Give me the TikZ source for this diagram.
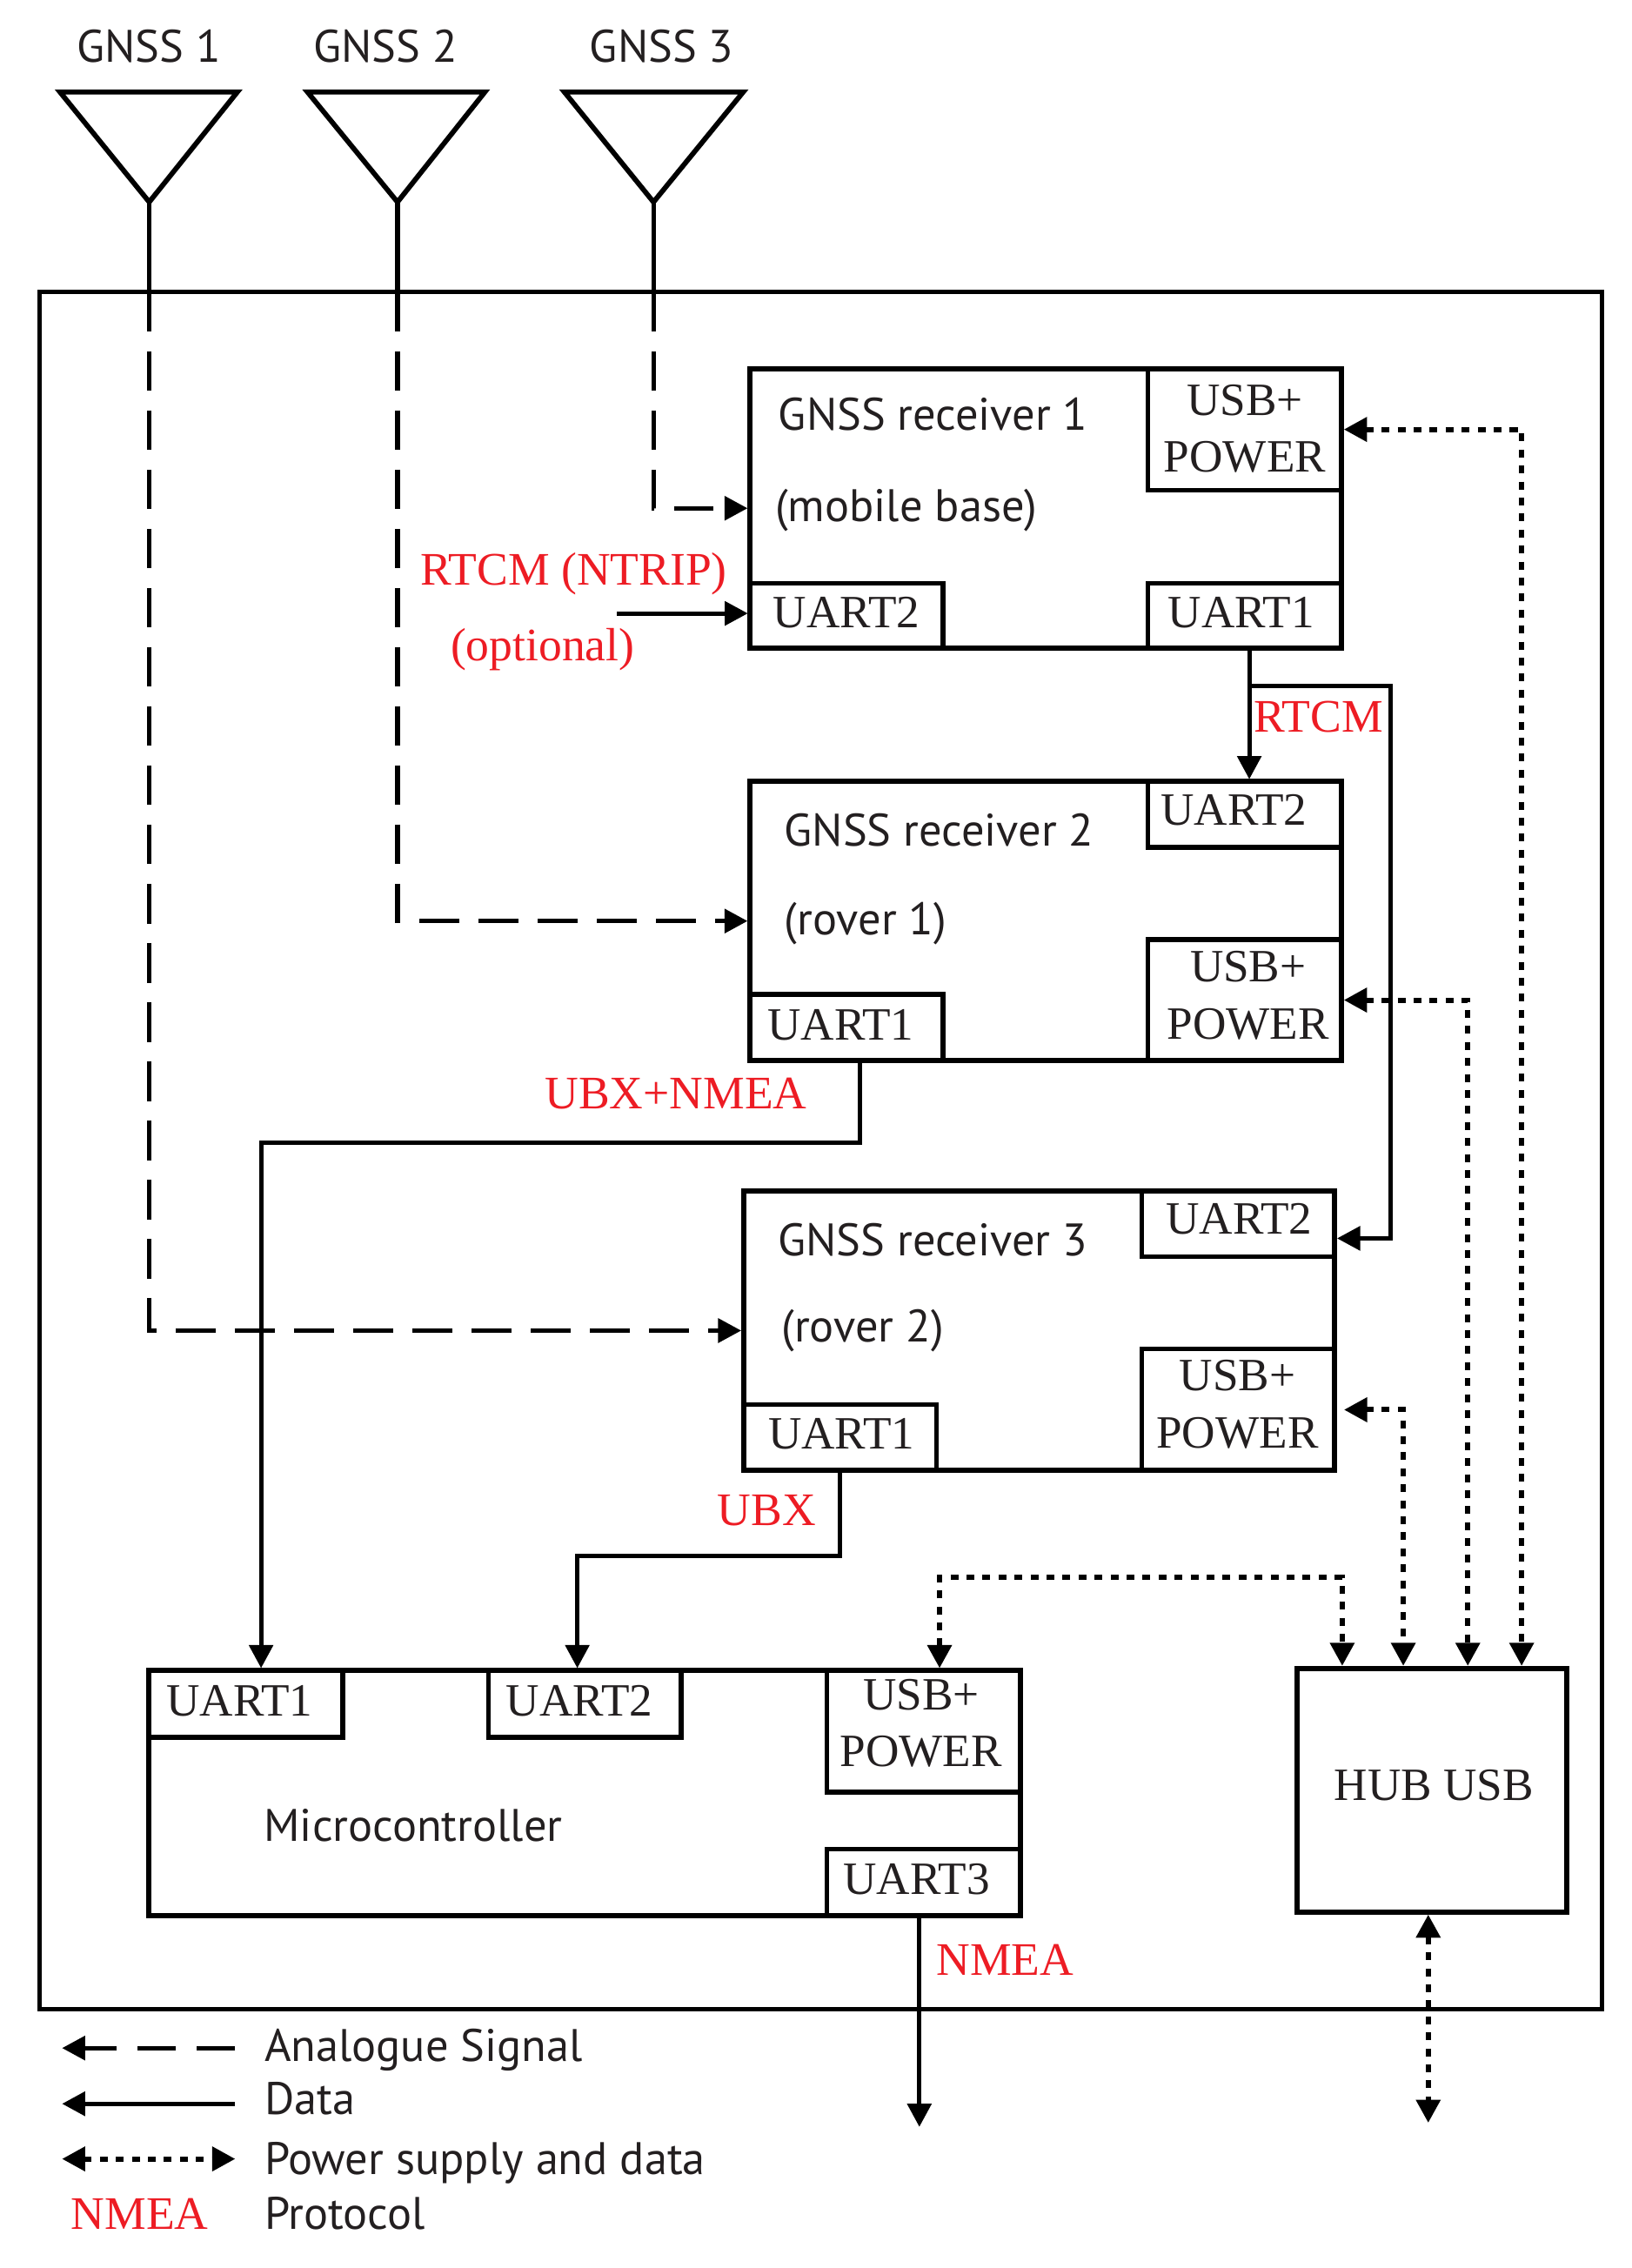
\documentclass[tikz,border=0pt]{standalone}
\usepackage{fontspec}
\setmainfont{Liberation Serif}
\newfontfamily\sansf{PT Sans}
\usetikzlibrary{arrows.meta,fit,calc}
\definecolor{rd}{RGB}{237,28,36}
\definecolor{tx}{RGB}{35,31,32}
\begin{document}
\begin{tikzpicture}[x=0.8295pt,y=-0.8295pt,
  box/.style={draw,line width=3pt,inner sep=0pt},
  sub/.style={draw,line width=2.7pt,inner sep=0pt},
  ttxt/.style={anchor=base,inner sep=0pt,text=tx,
    font=\fontsize{26.6pt}{32pt}\selectfont},
  stxt/.style={anchor=base west,inner sep=0pt,text=tx,
    font=\sansf\fontsize{26.2pt}{32pt}\selectfont},
  rtxt/.style={anchor=base west,inner sep=0pt,text=rd,
    font=\fontsize{26.8pt}{32pt}\selectfont},
  tip/.style={-{Triangle[length=13.3pt,width=13.6pt]}},
  wire/.style={line width=2.5pt},
  data/.style={wire,tip},
  analog/.style={line width=2.6pt,dash pattern=on 22.8pt off 11.2pt,dash phase=4.6pt,tip},
  pwr/.style={line width=3pt,dash pattern=on 4.5pt off 4.7pt,
    {Triangle[length=13.3pt,width=13.6pt]}-{Triangle[length=13.3pt,width=13.6pt]}},
  ant/.style={draw,line width=2.9pt,line join=miter}
]
\useasboundingbox (0,0) rectangle (1130.2,1571.4);

% antennas
\coordinate (a1) at (103.4,140);
\coordinate (a2) at (275.4,140);
\coordinate (a3) at (452.8,140);
\draw[ant] (41.5,63.7) -- (164.5,63.7) -- (a1) -- cycle;
\draw[ant] (213,63.7) -- (336,63.7) -- (a2) -- cycle;
\draw[ant] (391,63.7) -- (515,63.7) -- (a3) -- cycle;
\node[stxt] (g1) at (53,43) {GNSS 1};
\node[stxt] (g2) at (216.8,43) {GNSS 2};
\node[stxt] (g3) at (408.4,43) {GNSS 3};

% outer box
\node[box,line width=2.6pt,fit={(27.5,202.4) (1110,1392)}] (outer) {};

% receiver 1
\node[box,fit={(519.8,255.3) (929.5,449)}] (r1) {};
\node[sub,fit={(795.4,255.3) (929.5,339.8)}] (r1usb) {};
\node[sub,fit={(519.8,404) (653.3,449)}] (r1u2) {};
\node[sub,fit={(795.4,404) (929.5,449)}] (r1u1) {};
\node[ttxt] (r1usbA) at (862.6,287.9) {USB+};
\node[ttxt] (r1usbB) at (862.6,327) {POWER};
\node[ttxt] (r1u2t) at (586.5,435) {UART2};
\node[ttxt] (r1u1t) at (860,435) {UART1};
\node[stxt] (r1t1) at (539.2,298.3) {GNSS receiver 1};
\node[stxt] (r1t2) at (537,361.2) {(mobile base)};

% receiver 2
\node[box,fit={(519.8,541.5) (929.5,734.8)}] (r2) {};
\node[sub,fit={(795.4,541.5) (929.5,587)}] (r2u2) {};
\node[sub,fit={(795.4,651) (929.5,734.8)}] (r2usb) {};
\node[sub,fit={(519.8,689) (653.3,734.8)}] (r2u1) {};
\node[ttxt] (r2u2t) at (855,571.6) {UART2};
\node[ttxt] (r2usbA) at (864.8,680.5) {USB+};
\node[ttxt] (r2usbB) at (864.8,719.7) {POWER};
\node[ttxt] (r2u1t) at (582.5,720.4) {UART1};
\node[stxt] (r2t1) at (543.3,586) {GNSS receiver 2};
\node[stxt] (r2t2) at (543.3,647.8) {(rover 1)};

% receiver 3
\node[box,fit={(515.4,825) (924.8,1018.8)}] (r3) {};
\node[sub,fit={(791,825) (924.8,870.8)}] (r3u2) {};
\node[sub,fit={(791,934.7) (924.8,1018.8)}] (r3usb) {};
\node[sub,fit={(515.4,973) (649,1018.8)}] (r3u1) {};
\node[ttxt] (r3u2t) at (858.5,855) {UART2};
\node[ttxt] (r3usbA) at (857.4,963.8) {USB+};
\node[ttxt] (r3usbB) at (857.4,1003) {POWER};
\node[ttxt] (r3u1t) at (583,1004) {UART1};
\node[stxt] (r3t1) at (539,870) {GNSS receiver 3};
\node[stxt] (r3t2) at (541.3,930) {(rover 2)};

% microcontroller
\node[box,fit={(103,1157.4) (706.9,1327)}] (mc) {};
\node[sub,fit={(103,1157.4) (237.5,1203.6)}] (mcu1) {};
\node[sub,fit={(338.4,1157.4) (472,1203.6)}] (mcu2) {};
\node[sub,fit={(573,1157.4) (706.9,1241.6)}] (mcusb) {};
\node[sub,fit={(573,1281) (706.9,1327)}] (mcu3) {};
\node[ttxt] (mcu1t) at (166,1188.8) {UART1};
\node[ttxt] (mcu2t) at (401.5,1188.8) {UART2};
\node[ttxt] (mcusbA) at (638.2,1184.6) {USB+};
\node[ttxt] (mcusbB) at (638.2,1223.9) {POWER};
\node[ttxt] (mcu3t) at (635,1312.7) {UART3};
\node[stxt] (mct) at (182.7,1275.5) {Microcontroller};

% hub
\node[box,fit={(898.5,1156) (1085.5,1324.7)}] (hub) {};
\node[ttxt] (hubt) at (993.5,1247.6) {HUB USB};

% antenna feeds
\coordinate (a1s) at (103.4,208);
\coordinate (a2s) at (275.4,208);
\coordinate (a3s) at (452.8,208);
\draw[wire,line width=2.7pt] (a1) -- (a1s);
\draw[wire,line width=2.7pt] (a2) -- (a2s);
\draw[wire,line width=2.7pt] (a3) -- (a3s);
\draw[analog] (a3s) |- (r1.west);
\draw[analog] (a2s) |- (r2.west);
\draw[analog] (a1s) |- (r3.west);

% RTCM (NTRIP)
\coordinate (ntrip) at (427.5,425);
\draw[data] (ntrip) -- (r1u2.west |- ntrip);
\node[rtxt] (lntrip) at (291,405.3) {RTCM (NTRIP)};
\node[rtxt] (lopt) at (312,458) {(optional)};

% RTCM base -> rovers
\coordinate (rtA) at (865.6,475.4);
\coordinate (rtB) at (963.6,858);
\draw[data] (r1u1.south -| rtA) -- (r2u2.north -| rtA);
\draw[data] (rtA) -| (rtB) -- (r3u2.east |- rtB);
\node[rtxt] (lrtcm) at (868.5,507.5) {RTCM};

% rover 1 -> MCU
\coordinate (ub1) at (595.6,792);
\coordinate (ub1b) at (180.9,792);
\draw[data] (r2u1.south -| ub1) -- (ub1) -- (ub1b) -- (mcu1.north -| ub1b);
\node[rtxt] (lubxn) at (377.3,768.5) {UBX+NMEA};

% rover 2 -> MCU
\coordinate (ub2) at (581.8,1078);
\coordinate (ub2b) at (400,1078);
\draw[data] (r3u1.south -| ub2) -- (ub2) -- (ub2b) -- (mcu2.north -| ub2b);
\node[rtxt] (lubx) at (497,1056.8) {UBX};

% MCU output
\coordinate (nm) at (637,1473.6);
\draw[data] (mcu3.south -| nm) -- (nm);
\node[rtxt] (lnmea) at (648.7,1368.3) {NMEA};

% power / usb
\coordinate (p1) at (1054.3,0);
\coordinate (p2) at (1017,0);
\coordinate (p3) at (972.3,0);
\coordinate (p4) at (930,1092.8);
\coordinate (p4b) at (651,1092.8);
\draw[pwr] (r1usb.east) -| (hub.north -| p1);
\draw[pwr] (r2usb.east) -| (hub.north -| p2);
\draw[pwr] ([xshift=4pt]r3usb.east) -| (hub.north -| p3);
\draw[pwr] (mcusb.north -| p4b) -- (p4b) -- (p4) -- (hub.north -| p4);
\coordinate (hb) at (989.6,1470.8);
\draw[pwr] (hub.south -| hb) -- (hb);

% legend
\coordinate (l1a) at (43,1419); \coordinate (l1b) at (163,1419);
\coordinate (l2a) at (43,1457.6); \coordinate (l2b) at (163,1457.6);
\coordinate (l3a) at (43,1495.8); \coordinate (l3b) at (163,1495.8);
\draw[analog,dash pattern=on 22pt off 12pt,dash phase=0pt] (l1b) -- (l1a);
\draw[data,line width=2.7pt] (l2b) -- (l2a);
\draw[pwr] (l3a) -- (l3b);
\node[stxt] (t1) at (183,1428) {Analogue Signal};
\node[stxt] (t2) at (183,1465.2) {Data};
\node[stxt] (t3) at (183,1506.6) {Power supply and data};
\node[rtxt] (t4a) at (49,1544.3) {NMEA};
\node[stxt] (t4) at (183,1544.3) {Protocol};
\end{tikzpicture}
\end{document}
